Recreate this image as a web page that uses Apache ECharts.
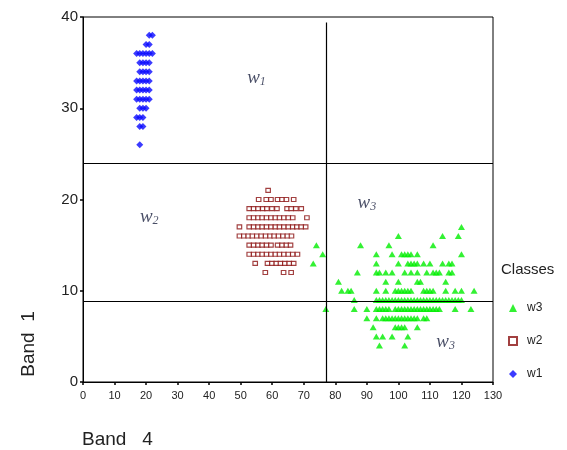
<!DOCTYPE html>
<html>
<head>
<meta charset="utf-8">
<script src="https://cdn.jsdelivr.net/npm/echarts@6/dist/echarts.min.js"></script>
<style>
  html, body { margin: 0; padding: 0; background: #fff; }
  #chart { width: 567px; height: 450px; }
</style>
</head>
<body>
<div id="chart"></div>
<script>
// class w1 (blue diamonds): [Band 4, Band 1]
const w1Points = [
  [21, 38], [22, 38],
  [20, 37], [21, 37],
  [17, 36], [18, 36], [19, 36], [20, 36], [21, 36], [22, 36],
  [18, 35], [19, 35], [20, 35], [21, 35],
  [18, 34], [19, 34], [20, 34], [21, 34],
  [17, 33], [18, 33], [19, 33], [20, 33], [21, 33],
  [17, 32], [18, 32], [19, 32], [20, 32], [21, 32],
  [17, 31], [18, 31], [19, 31], [20, 31], [21, 31],
  [18, 30], [19, 30], [20, 30],
  [17, 29], [18, 29], [19, 29],
  [18, 28], [19, 28],
  [18, 26]
]

// class w2 (hollow dark red squares)
const w2Points = [
  [58.7, 21],
  [55.7, 20], [58.1, 20], [59.6, 20], [61.7, 20], [63.1, 20], [64.5, 20], [66.8, 20],
  [52.7, 19], [54.1, 19], [55.5, 19], [57.0, 19], [58.3, 19], [59.9, 19], [61.5, 19], [64.7, 19], [66.0, 19], [67.5, 19], [69.2, 19],
  [52.7, 18], [54.1, 18], [55.5, 18], [56.8, 18], [58.2, 18], [59.6, 18], [61.0, 18], [62.3, 18], [63.7, 18], [65.1, 18], [66.5, 18], [71.0, 18],
  [49.6, 17], [52.7, 17], [54.1, 17], [55.5, 17], [56.8, 17], [58.2, 17], [59.6, 17], [61.0, 17], [62.3, 17], [63.7, 17], [65.1, 17], [66.5, 17], [67.8, 17], [69.2, 17], [70.6, 17],
  [49.6, 16], [51.0, 16], [52.4, 16], [53.7, 16], [55.1, 16], [56.5, 16], [57.9, 16], [59.3, 16], [60.6, 16], [62.0, 16], [63.4, 16], [64.8, 16], [66.1, 16],
  [52.7, 15], [54.1, 15], [55.5, 15], [56.8, 15], [58.2, 15], [59.6, 15], [61.7, 15], [63.1, 15], [64.5, 15], [65.8, 15],
  [52.7, 14], [54.1, 14], [55.5, 14], [56.8, 14], [58.2, 14], [59.6, 14], [61.0, 14], [62.3, 14], [63.7, 14], [65.1, 14], [66.5, 14], [68.0, 14],
  [54.6, 13], [58.5, 13], [59.9, 13], [61.3, 13], [62.6, 13], [64.0, 13], [65.4, 13], [66.8, 13],
  [57.8, 12], [63.6, 12], [66.0, 12]
]

// class w3 (green triangles)
const w3Points = [
  [120, 17],
  [100, 16], [114, 16], [119, 16],
  [74, 15], [88, 15], [97, 15], [111, 15],
  [76, 14], [93, 14], [98, 14], [101, 14], [102, 14], [103, 14], [104, 14], [106, 14], [120, 14],
  [73, 13], [93, 13], [100, 13], [103, 13], [104, 13], [105, 13], [106, 13], [108, 13], [110, 13], [114, 13], [116, 13], [117, 13],
  [87, 12], [93, 12], [94, 12], [96, 12], [98, 12], [102, 12], [104, 12], [106, 12], [109, 12], [111, 12], [112, 12], [113, 12], [116, 12], [117, 12],
  [81, 11], [96, 11], [100, 11], [106, 11], [107, 11], [115, 11],
  [82, 10], [84, 10], [85, 10], [93, 10], [96, 10], [99, 10], [100, 10], [101, 10], [102, 10], [103, 10], [104, 10],
  [108, 10], [109, 10], [110, 10], [111, 10], [115, 10], [118, 10], [120, 10], [124, 10],
  [86, 9], [93, 9], [94, 9], [95, 9], [96, 9], [97, 9], [98, 9], [99, 9], [100, 9], [101, 9], [102, 9], [103, 9], [104, 9],
  [105, 9], [106, 9], [107, 9], [108, 9], [109, 9], [110, 9], [111, 9], [112, 9], [113, 9], [114, 9], [115, 9], [116, 9],
  [117, 9], [118, 9], [119, 9], [120, 9],
  [77, 8], [86, 8], [90, 8], [93, 8], [94, 8], [95, 8], [96, 8], [97, 8], [99, 8], [100, 8], [101, 8], [102, 8], [103, 8],
  [104, 8], [105, 8], [106, 8], [107, 8], [108, 8], [109, 8], [110, 8], [111, 8], [112, 8], [113, 8], [118, 8], [123, 8],
  [90, 7], [93, 7], [95, 7], [96, 7], [97, 7], [98, 7], [99, 7], [100, 7], [101, 7], [102, 7], [103, 7], [104, 7], [105, 7], [106, 7], [108, 7], [109, 7],
  [92, 6], [99, 6], [100, 6], [101, 6], [102, 6], [106, 6],
  [93, 5], [95, 5], [98, 5], [103, 5],
  [94, 4], [102, 4]
]

// region labels: [x, y, subscript]
const regionLabels = [
  [55, 33.3, '1'],
  [21, 18.1, '2'],
  [90, 19.6, '3'],
  [115, 4.4, '3']
]

// class boundaries
const boundaryY = [24, 8.8]
const boundaryX = [77]

const xTicks = { min: 0, max: 130, interval: 10 }
const yTicks = { min: 0, max: 40, interval: 10 }

const chart = echarts.init(document.getElementById('chart'))

let markLines = []
boundaryY.forEach(v => {
  markLines.push([{ coord: [xTicks.min, v] }, { coord: [xTicks.max, v] }])
})
boundaryX.forEach(v => {
  markLines.push([{ coord: [v, 0] }, { coord: [v, 39.4] }])
})

let option = {
  animation: false,
  backgroundColor: '#fff',
  grid: {
    left: 83,
    top: 17,
    right: 74,
    bottom: 68,
    show: true,
    borderColor: '#000',
    borderWidth: 1
  },
  legend: {
    data: ['w3', 'w2', 'w1'],
    orient: 'vertical',
    left: 503,
    top: 297,
    itemGap: 21,
    itemWidth: 8,
    itemHeight: 8,
    textStyle: { fontFamily: 'Liberation Sans', fontSize: 12, color: '#222', padding: [0, 0, 0, 5] }
  },
  xAxis: {
    type: 'value',
    min: xTicks.min,
    max: xTicks.max,
    interval: xTicks.interval,
    axisLine: { show: true, onZero: false, lineStyle: { color: '#000', width: 1 } },
    axisTick: { show: true, length: 3, lineStyle: { color: '#000', width: 1.5 } },
    axisLabel: { fontFamily: 'Liberation Sans', fontSize: 11, color: '#222', margin: 8 },
    splitLine: { show: false }
  },
  yAxis: {
    type: 'value',
    min: yTicks.min,
    max: yTicks.max,
    interval: yTicks.interval,
    axisLine: { show: true, onZero: false, lineStyle: { color: '#000', width: 1 } },
    axisTick: { show: true, length: 3, lineStyle: { color: '#000', width: 1.5 } },
    axisLabel: { fontFamily: 'Liberation Sans', fontSize: 15, color: '#222', margin: 5 },
    splitLine: { show: false }
  },
  graphic: [
    {
      type: 'text', left: 501, top: 262,
      style: { text: 'Classes', fontFamily: 'Liberation Sans', fontSize: 15, fill: '#222' }
    },
    {
      type: 'text', x: 82, y: 440,
      style: { text: 'Band   4', fontFamily: 'Liberation Sans', fontSize: 19, fill: '#222', textAlign: 'left', textVerticalAlign: 'middle' }
    },
    {
      type: 'text', x: 29, y: 344, rotation: Math.PI / 2,
      style: { text: 'Band  1', fontFamily: 'Liberation Sans', fontSize: 19, fill: '#222', textAlign: 'center', textVerticalAlign: 'middle' }
    }
  ],
  series: [
    {
      name: 'w3',
      type: 'scatter',
      symbol: 'triangle',
      symbolSize: [7, 6],
      itemStyle: { color: '#00ee00' },
      data: w3Points
    },
    {
      name: 'w2',
      type: 'scatter',
      symbol: 'rect',
      symbolSize: [4.5, 4],
      itemStyle: { color: '#fff', borderColor: '#8b1010', borderWidth: 1.1 },
      data: w2Points
    },
    {
      name: 'w1',
      type: 'scatter',
      symbol: 'diamond',
      symbolSize: [7, 7],
      itemStyle: { color: '#0a0aff' },
      data: w1Points,
      markLine: {
        silent: true,
        symbol: 'none',
        label: { show: false },
        lineStyle: { color: '#000', width: 1.2, type: 'solid' },
        data: markLines
      }
    },
    {
      name: 'labels',
      type: 'scatter',
      symbolSize: 0,
      silent: true,
      data: regionLabels,
      label: {
        show: true,
        position: 'inside',
        formatter: p => '{w|w}{s|' + p.value[2] + '}',
        rich: {
          w: { fontFamily: 'Liberation Serif', fontStyle: 'italic', fontSize: 19, color: '#1c2240' },
          s: { fontFamily: 'Liberation Serif', fontStyle: 'italic', fontSize: 12, color: '#1c2240', padding: [8, 0, 0, 0] }
        }
      }
    }
  ]
}

chart.setOption(option)
</script>
</body>
</html>
